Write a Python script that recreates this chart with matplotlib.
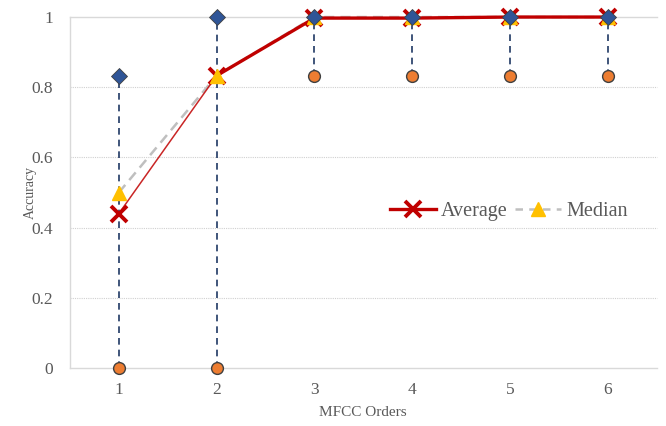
import matplotlib
matplotlib.use("Agg")
import matplotlib.pyplot as plt
from matplotlib.lines import Line2D

orders = [1, 2, 3, 4, 5, 6]
max_acc = [0.833, 1.0, 1.0, 1.0, 1.0, 1.0]
min_acc = [0.0, 0.0, 0.833, 0.833, 0.833, 0.833]
avg_acc = [0.44, 0.833, 0.997, 0.997, 1.0, 1.0]
med_acc = [0.5, 0.833, 1.0, 1.0, 1.0, 1.0]
yticks = [0, 0.2, 0.4, 0.6, 0.8, 1.0]
ytick_labels = ["0", "0.2", "0.4", "0.6", "0.8", "1"]

plt.rcParams['font.family'] = ['Liberation Serif', 'DejaVu Serif']
txt = '#595959'
red = '#c00000'
gold = '#ffc000'
grey = '#bfbfbf'

fig = plt.figure(figsize=(6.66, 4.26), dpi=100)
ax = fig.add_axes([0.105, 0.136, 0.881, 0.824])

for y in yticks[1:-1]:
    ax.axhline(y, color='#d0d0d0', lw=0.8, ls=(0, (1, 1)), zorder=0)
ax.axhline(1.0, color='#d9d9d9', lw=1.0, zorder=0)

ax.vlines(orders, min_acc, max_acc, colors='#1f3864', lw=1.2, linestyles=(0, (4, 3)), zorder=1)

# lines
ax.plot(orders, med_acc, color=grey, lw=1.8, ls=(0, (4, 2.5)), zorder=2)
ax.plot(orders[:2], avg_acc[:2], color=red, lw=1.1, alpha=0.85, zorder=3)
ax.plot(orders[1:], avg_acc[1:], color=red, lw=2.4, zorder=3)
# markers
ax.plot(orders, avg_acc, ls='none', marker='x', ms=11, mew=2.8, mec=red, zorder=4)
ax.plot(orders, med_acc, ls='none', marker='^', ms=10, mfc=gold, mec=gold, zorder=5)
ax.plot(orders, max_acc, ls='none', marker='D', ms=8, mfc='#2f5597', mec='#404040', mew=0.6, zorder=6)
ax.plot(orders, min_acc, ls='none', marker='o', ms=8.5, mfc='#ed7d31', mec='#404040', mew=1.0, zorder=6)

ax.set_xlim(0.5, 6.5)
ax.set_ylim(0, 1.0)
ax.set_xticks(orders)
ax.set_xticklabels([str(o) for o in orders])
ax.set_yticks(yticks)
ax.set_yticklabels(ytick_labels)
ax.tick_params(length=0, colors=txt, labelsize=12.5, pad=12)
ax.tick_params(axis='x', pad=10)

for s in ['top', 'right']:
    ax.spines[s].set_visible(False)
for s in ['left', 'bottom']:
    ax.spines[s].set_color('#d9d9d9')
    ax.spines[s].set_linewidth(1.0)
for ln in ax.lines:
    ln.set_clip_on(False)

ax.set_xlabel('MFCC Orders', color=txt, fontsize=11, labelpad=6)
ax.set_ylabel('Accuracy', color=txt, fontsize=10, labelpad=-4)

handles = [
    Line2D([], [], color=red, lw=2.4, marker='x', ms=11, mew=2.8, mec=red),
    Line2D([], [], color=grey, lw=1.8, ls=(0, (3, 2.5)), marker='^', ms=10, mfc=gold, mec=gold),
]
leg = ax.legend(handles, ['Average', 'Median'], loc='center left',
                bbox_to_anchor=(0.545, 0.445), ncol=2, frameon=False, fontsize=14.5,
                handlelength=2.3, handletextpad=0.25, columnspacing=0.35, labelcolor=txt,
                borderaxespad=0, borderpad=0)

fig.savefig('out.png', dpi=100)
